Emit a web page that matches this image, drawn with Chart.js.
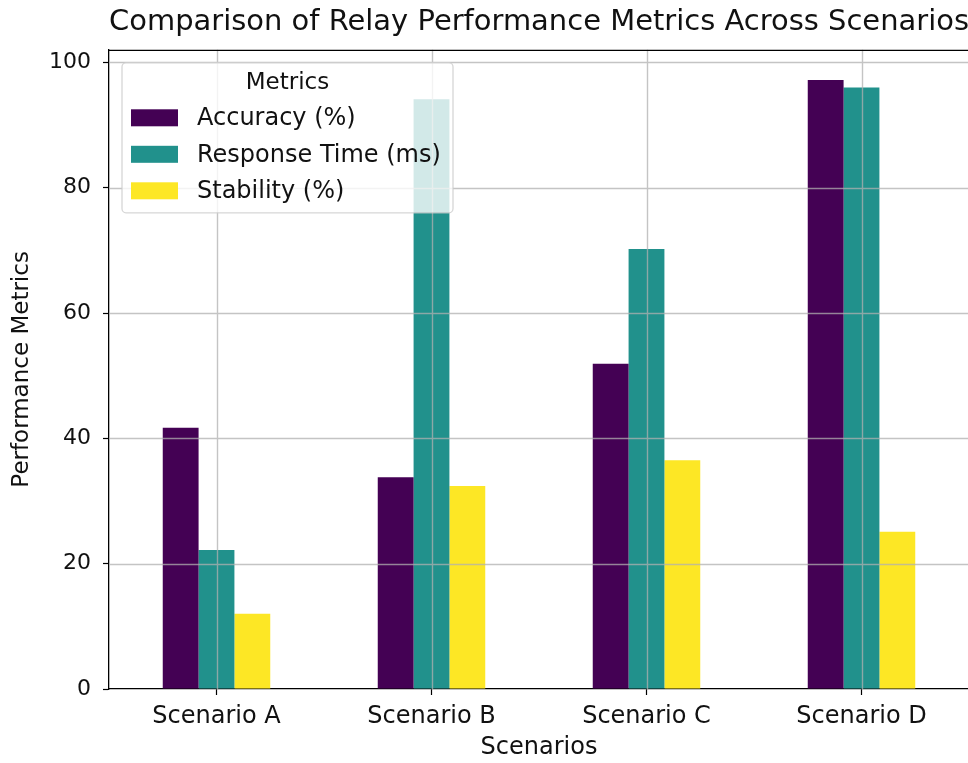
<!DOCTYPE html>
<html>
<head>
<meta charset="utf-8">
<script src="https://cdn.jsdelivr.net/npm/chart.js@4.4.1/dist/chart.umd.min.js"></script>
<style>
    html, body { margin: 0; padding: 0; overflow: hidden; background: #fff; }
    canvas { display: block; }
</style>
</head>
<body>
<canvas id="relayChart" width="975" height="763"></canvas>
<script>
const scenarios = ['Scenario A', 'Scenario B', 'Scenario C', 'Scenario D'];
const accuracy = [41.7, 33.8, 51.9, 97.2];
const responseTime = [22.2, 94.1, 70.2, 96.0];
const stability = [12.0, 32.4, 36.5, 25.1];
const yTicks = [0, 20, 40, 60, 80, 100];

const FONT = "'DejaVu Sans', sans-serif";
const GRID = 'rgba(176,176,176,0.75)';

// grid lines go on top of the bars, like the original
const gridOnTop = {
    id: 'gridOnTop',
    afterDatasetsDraw(chart) {
        const {ctx, chartArea: a, scales: {x, y}} = chart;
        ctx.save();
        ctx.strokeStyle = GRID;
        ctx.lineWidth = 1.4;
        ctx.beginPath();
        scenarios.forEach((s, i) => {
            const px = Math.round(x.getPixelForValue(i)) + 0.5;
            ctx.moveTo(px, a.top);
            ctx.lineTo(px, a.bottom);
        });
        yTicks.forEach(v => {
            if (v === 0) return;
            const py = Math.round(y.getPixelForValue(v)) + 0.5;
            ctx.moveTo(a.left, py);
            ctx.lineTo(a.right, py);
        });
        ctx.stroke();
        // top spine
        ctx.strokeStyle = '#000';
        ctx.lineWidth = 1.3;
        ctx.beginPath();
        ctx.moveTo(a.left, a.top + 0.5);
        ctx.lineTo(a.right, a.top + 0.5);
        ctx.stroke();
        ctx.restore();
    }
};

// legend box in the upper left of the plot
const boxLegend = {
    id: 'boxLegend',
    afterDraw(chart) {
        const {ctx, chartArea: a} = chart;
        const x0 = a.left + 13, y0 = a.top + 13, w = 331, h = 150;
        ctx.save();
        ctx.fillStyle = 'rgba(255,255,255,0.8)';
        ctx.strokeStyle = 'rgba(204,204,204,0.8)';
        ctx.lineWidth = 1.3;
        ctx.beginPath();
        ctx.roundRect(x0, y0, w, h, 4);
        ctx.fill();
        ctx.stroke();

        ctx.fillStyle = '#111';
        ctx.font = '23px ' + FONT;
        ctx.textAlign = 'center';
        ctx.textBaseline = 'middle';
        ctx.fillText('Metrics', x0 + w / 2, y0 + 20);

        ctx.font = '24px ' + FONT;
        ctx.textAlign = 'left';
        chart.data.datasets.forEach((ds, i) => {
            const cy = y0 + 55 + i * 36.5;
            ctx.fillStyle = ds.backgroundColor;
            ctx.fillRect(x0 + 9, cy - 8.5, 47, 17);
            ctx.fillStyle = '#111';
            ctx.fillText(ds.label, x0 + 75, cy + 1);
        });
        ctx.restore();
    }
};

new Chart(document.getElementById('relayChart'), {
    type: 'bar',
    data: {
        labels: scenarios,
        datasets: [
            {label: 'Accuracy (%)', data: accuracy, backgroundColor: '#440154'},
            {label: 'Response Time (ms)', data: responseTime, backgroundColor: '#21918c'},
            {label: 'Stability (%)', data: stability, backgroundColor: '#fde725'}
        ]
    },
    options: {
        responsive: false,
        animation: false,
        devicePixelRatio: 1,
        layout: {padding: {left: 0, right: 6, top: 0, bottom: 0}},
        datasets: {bar: {categoryPercentage: 0.5, barPercentage: 1.0, borderWidth: 0}},
        plugins: {
            legend: {display: false},
            tooltip: {enabled: false},
            title: {
                display: true,
                fullSize: false,
                text: 'Comparison of Relay Performance Metrics Across Scenarios',
                color: '#111',
                font: {family: FONT, size: 29, weight: 'normal'},
                padding: {top: 5, bottom: 10}
            }
        },
        scales: {
            x: {
                afterFit: s => { s.height = 74; },
                grid: {offset: false, drawOnChartArea: false, drawTicks: true, tickLength: 6, color: '#000', tickWidth: 1.2},
                border: {display: true, color: '#000', width: 1.3},
                ticks: {color: '#111', font: {family: FONT, size: 24}, padding: 7, maxRotation: 0},
                title: {display: true, text: 'Scenarios', color: '#111', font: {family: FONT, size: 24}, padding: {top: 0, bottom: 1}}
            },
            y: {
                min: 0,
                max: 102,
                afterFit: s => { s.width = 109; },
                afterBuildTicks: s => { s.ticks = yTicks.map(v => ({value: v})); },
                grid: {drawOnChartArea: false, drawTicks: true, tickLength: 6, color: '#000', tickWidth: 1.2},
                border: {display: true, color: '#000', width: 1.3},
                ticks: {color: '#111', font: {family: FONT, size: 22}, padding: 12},
                title: {display: true, text: 'Performance Metrics', color: '#111', font: {family: FONT, size: 23}, padding: {top: 8, bottom: 4}}
            }
        }
    },
    plugins: [gridOnTop, boxLegend]
});
</script>
</body>
</html>
